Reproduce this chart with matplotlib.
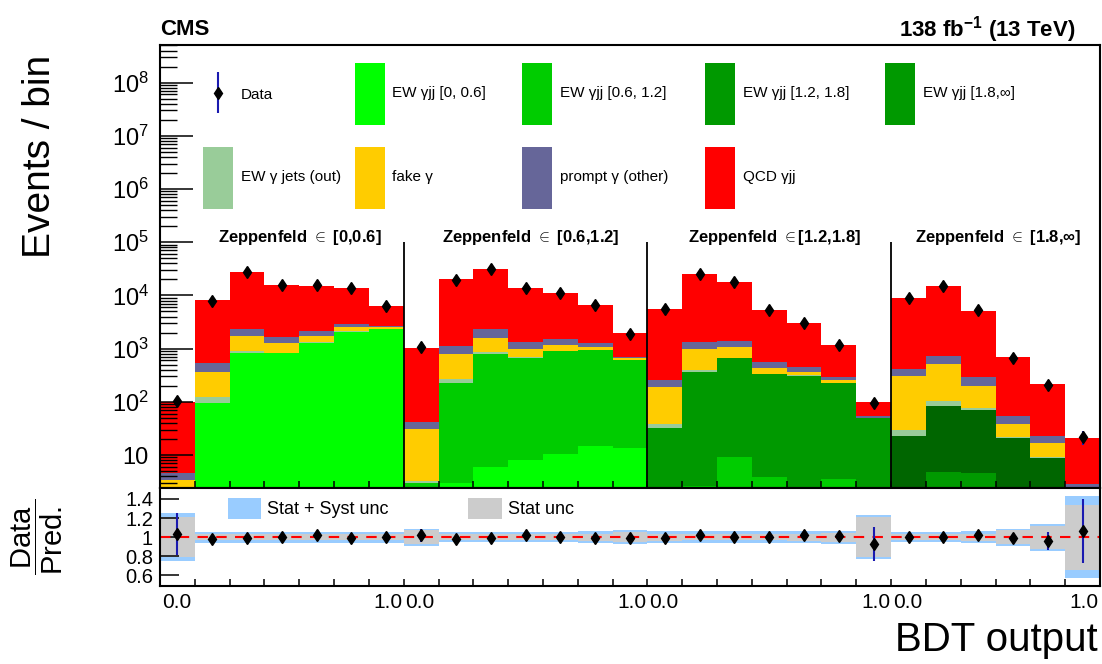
import numpy as np
import matplotlib
matplotlib.use('Agg')
import matplotlib.pyplot as plt
from matplotlib.patches import Patch
from matplotlib.legend import Legend
from matplotlib.container import ErrorbarContainer
from matplotlib.legend_handler import HandlerErrorbar
from matplotlib.ticker import LogLocator, FixedLocator, NullFormatter, FuncFormatter

plt.rcParams['font.family'] = ['Liberation Sans', 'DejaVu Sans']
plt.rcParams['mathtext.fontset'] = 'custom'
plt.rcParams['mathtext.rm'] = 'Liberation Sans'
plt.rcParams['mathtext.it'] = 'Liberation Sans:italic'
plt.rcParams['mathtext.bf'] = 'Liberation Sans:bold'

# BDT bins: 7 + 7 + 7 + 6, one block per Zeppenfeld region
region_labels = [r'Zeppenfeld $\in$ [0,0.6]', r'Zeppenfeld $\in$ [0.6,1.2]',
                 r'Zeppenfeld $\in$[1.2,1.8]', r'Zeppenfeld $\in$ [1.8,∞]']
region_nbins = [7, 7, 7, 6]

# yields per bin (stacked bottom -> top)
ew_0_06 = [0.5, 96, 838, 810, 1290, 2080, 2300,
           0.5, 3.0, 6.0, 8.1, 10.3, 14.8, 13.7,
           0, 0, 0, 0, 0, 0, 0,
           0, 0, 0, 0, 0, 0]
ew_06_12 = [0, 0, 0, 0, 0, 0, 0,
            2.5, 220, 776, 672, 890, 925, 596,
            1.5, 2.6, 9.0, 3.9, 1.5, 3.6, 1.0,
            0, 0, 0, 0, 0, 0]
ew_12_18 = [0, 0, 0, 0, 0, 0, 0,
            0, 0, 0, 0, 0, 0, 0,
            30, 356, 651, 326, 308, 219, 48,
            1.0, 4.7, 4.5, 1.0, 0.5, 0.2]
ew_18_inf = [0, 0, 0, 0, 0, 0, 0,
             0, 0, 0, 0, 0, 0, 0,
             0, 0, 0, 0, 0, 0, 0,
             22, 80, 65, 20, 8.2, 1.0]
ew_out = [0.3, 26, 74, 28, 30, 30, 30,
          0.2, 42, 80, 20, 20, 15, 10,
          6.3, 41, 20, 10, 8, 5, 0.5,
          6.5, 18, 5.5, 1.0, 0.3, 0.2]
fake_g = [2.6, 246, 818, 452, 410, 400, 180,
          28, 517, 738, 280, 250, 135, 45,
          149, 570, 370, 95, 50, 29, 1.0,
          280, 404, 122, 16, 8, 0.5]
prompt_other = [1.2, 157, 640, 386, 440, 370, 190,
                10.7, 338, 700, 330, 330, 200, 40,
                70, 380, 360, 125, 77, 33, 2.5,
                100, 218, 97, 16, 5.7, 1.0]
qcd = [95, 7575, 25530, 14024, 13030, 11070, 3600,
       998, 18880, 28700, 12290, 9700, 5360, 1235,
       5243, 23550, 16690, 4740, 2555, 880, 48,
       8640, 14275, 4855, 631, 193, 17.7]

# data / prediction and uncertainties
data_ratio = [1.035, 0.98, 0.99, 1.0, 1.02, 0.99, 1.0,
              1.02, 0.98, 0.99, 1.02, 1.0, 0.995, 0.99,
              0.99, 1.02, 1.0, 1.0, 1.02, 1.015, 0.93,
              1.0, 1.0, 1.02, 0.99, 0.96, 1.066]
data_rel_err = [0.21, 0.012, 0.006, 0.008, 0.008, 0.009, 0.013,
                0.065, 0.007, 0.006, 0.009, 0.01, 0.013, 0.023,
                0.014, 0.007, 0.008, 0.014, 0.019, 0.03, 0.195,
                0.011, 0.008, 0.014, 0.04, 0.1, 0.31]
stat_unc = [0.21, 0.03, 0.03, 0.03, 0.03, 0.03, 0.03,
            0.075, 0.03, 0.03, 0.03, 0.03, 0.035, 0.05,
            0.035, 0.03, 0.03, 0.03, 0.035, 0.045, 0.21,
            0.03, 0.03, 0.035, 0.075, 0.12, 0.34]
tot_unc = [0.25, 0.058, 0.058, 0.058, 0.058, 0.058, 0.058,
           0.09, 0.055, 0.055, 0.055, 0.055, 0.065, 0.075,
           0.065, 0.06, 0.06, 0.06, 0.062, 0.07, 0.23,
           0.055, 0.055, 0.06, 0.09, 0.14, 0.43]

layers = [
    (ew_0_06, '#00ff00', 'EW γjj [0, 0.6]'),
    (ew_06_12, '#00cc00', 'EW γjj [0.6, 1.2]'),
    (ew_12_18, '#009900', 'EW γjj [1.2, 1.8]'),
    (ew_18_inf, '#006600', 'EW γjj [1.8,∞]'),
    (ew_out, '#99cc99', 'EW γ jets (out)'),
    (fake_g, '#ffcc00', 'fake γ'),
    (prompt_other, '#666699', 'prompt γ (other)'),
    (qcd, '#ff0000', 'QCD γjj'),
]

n_bins = sum(region_nbins)
edges = np.arange(n_bins + 1)
centers = edges[:-1] + 0.5
bounds = np.cumsum([0] + region_nbins)

fig = plt.figure(figsize=(11.02, 6.64), dpi=100)
ax = fig.add_axes([0.1452, 0.2651, 0.8530, 0.6672])
axr = fig.add_axes([0.1452, 0.1175, 0.8530, 0.1476])
ax.set_yscale('log')

cum = np.zeros(n_bins)
for vals, col, lab in layers:
    top = cum + np.array(vals, dtype=float)
    ax.stairs(top, edges, baseline=cum, fill=True, color=col, lw=0)
    cum = top
total = cum

data = np.array(data_ratio) * total
data_err = data * np.array(data_rel_err)
cont = ax.errorbar(centers, data, yerr=data_err, fmt='d', color='black', ms=6.5,
                   ecolor='#1a1ab0', elinewidth=1.5, capsize=0, zorder=5)

ylo, yhi = 2.4, 5.1e8
ax.set_ylim(ylo, yhi)
ax.set_xlim(0, n_bins)
ax.vlines(bounds[1:-1], ylo, 1e5, color='black', lw=1.3)

label_x = [4.02, 10.66, 17.64, 24.08]
for lx, lab in zip(label_x, region_labels):
    ax.text(lx, 1.2e5, lab, ha='center', va='center', fontsize=12, fontweight='bold')

# axes styling
for a in (ax, axr):
    for s in a.spines.values():
        s.set_linewidth(1.5)
ax.yaxis.set_major_locator(LogLocator(base=10, numticks=20))
ax.yaxis.set_minor_locator(LogLocator(base=10, subs=np.arange(2, 10), numticks=50))
ax.yaxis.set_minor_formatter(NullFormatter())
ax.yaxis.set_major_formatter(FuncFormatter(
    lambda v, p: '10' if abs(v - 10) < 1e-6 else r'$10^{%d}$' % round(np.log10(v))))
ax.tick_params(axis='y', which='major', direction='in', length=24, width=1.1,
               labelsize=17, pad=8, right=False)
ax.tick_params(axis='y', which='minor', direction='in', length=12, width=1.0, right=False)
ax.xaxis.set_major_locator(FixedLocator(edges))
ax.tick_params(axis='x', which='both', direction='in', length=5, width=1.1,
               labelbottom=False, top=False)

# legend: one small legend per entry, laid out on a 5 x 2 grid
p = {lab: Patch(facecolor=col, edgecolor='none') for _, col, lab in layers}
p['EW γjj [1.8,∞]'] = Patch(facecolor='#009900', edgecolor='none')
col_x = [0.0457, 0.207, 0.385, 0.580, 0.771]
row_y = [0.959, 0.770]
grid = [('EW γjj [0, 0.6]', 1, 0), ('EW γjj [0.6, 1.2]', 2, 0),
        ('EW γjj [1.2, 1.8]', 3, 0), ('EW γjj [1.8,∞]', 4, 0),
        ('EW γ jets (out)', 0, 1), ('fake γ', 1, 1),
        ('prompt γ (other)', 2, 1), ('QCD γjj', 3, 1)]
for lab, c, r in grid:
    leg = Legend(ax, [p[lab]], [lab], loc='upper left',
                 bbox_to_anchor=(col_x[c], row_y[r]), frameon=False,
                 fontsize=11, handlelength=1.96, handleheight=5.85,
                 handletextpad=0.52, borderpad=0, borderaxespad=0)
    ax.add_artist(leg)
leg = Legend(ax, [cont], ['Data'], loc='upper left', bbox_to_anchor=(col_x[0], 0.906),
             frameon=False, fontsize=11, handlelength=1.96, handleheight=1.0,
             handletextpad=0.52, borderpad=0, borderaxespad=0,
             handler_map={ErrorbarContainer: HandlerErrorbar(yerr_size=1.35)})
ax.add_artist(leg)

# ratio panel
axr.stairs(1 + np.array(tot_unc), edges, baseline=1 - np.array(tot_unc),
           fill=True, color='#99ccff', lw=0)
axr.stairs(1 + np.array(stat_unc), edges, baseline=1 - np.array(stat_unc),
           fill=True, color='#cccccc', lw=0)
axr.axhline(1, color='red', ls='--', lw=1.5, dashes=(5, 4))
axr.errorbar(centers, data_ratio, yerr=np.array(data_ratio) * np.array(data_rel_err),
             fmt='d', color='black', ms=6, ecolor='#1a1ab0', elinewidth=1.5, capsize=0, zorder=5)
axr.set_xlim(0, n_bins)
axr.set_ylim(0.49, 1.515)
axr.yaxis.set_major_locator(FixedLocator([0.6, 0.8, 1.0, 1.2, 1.4]))
axr.set_yticklabels(['0.6', '0.8', '1', '1.2', '1.4'])
axr.tick_params(axis='y', direction='in', length=14, width=1.1, labelsize=14.5, pad=5, right=False)
axr.xaxis.set_major_locator(FixedLocator(edges))
axr.tick_params(axis='x', direction='in', length=5, width=1.1, labelbottom=False, top=False)
axr.legend([Patch(facecolor='#99ccff', edgecolor='none'), Patch(facecolor='#cccccc', edgecolor='none')],
           ['Stat + Syst unc', 'Stat unc'], ncol=2, loc='upper left',
           bbox_to_anchor=(0.072, 0.9), frameon=False, fontsize=13,
           handlelength=1.85, handleheight=1.4, columnspacing=4.4,
           handletextpad=0.35, borderpad=0, borderaxespad=0)

# BDT output labels at the region boundaries
tr = axr.get_xaxis_transform()
for i, b in enumerate(bounds):
    if i > 0:
        axr.text(b - 0.03, -0.17, '1.0', transform=tr, ha='right', va='center', fontsize=15)
    if i < len(bounds) - 1:
        axr.text(b + 0.05, -0.17, '0.0', transform=tr, ha='left', va='center', fontsize=15)

fig.text(0.145, 0.955, 'CMS', ha='left', va='center', fontsize=16, fontweight='bold')
fig.text(0.976, 0.955, r'138 fb$^{\mathbf{-1}}$ (13 TeV)', ha='right', va='center',
         fontsize=16, fontweight='bold')
fig.text(0.036, 0.917, 'Events / bin', rotation=90, ha='center', va='top', fontsize=28)
fig.text(0.034, 0.191, r'$\dfrac{\mathrm{Data}}{\mathrm{Pred.}}$', rotation=90,
         ha='center', va='center', fontsize=21)
fig.text(0.996, 0.036, 'BDT output', ha='right', va='center', fontsize=29)

fig.savefig('out.png', dpi=100)
